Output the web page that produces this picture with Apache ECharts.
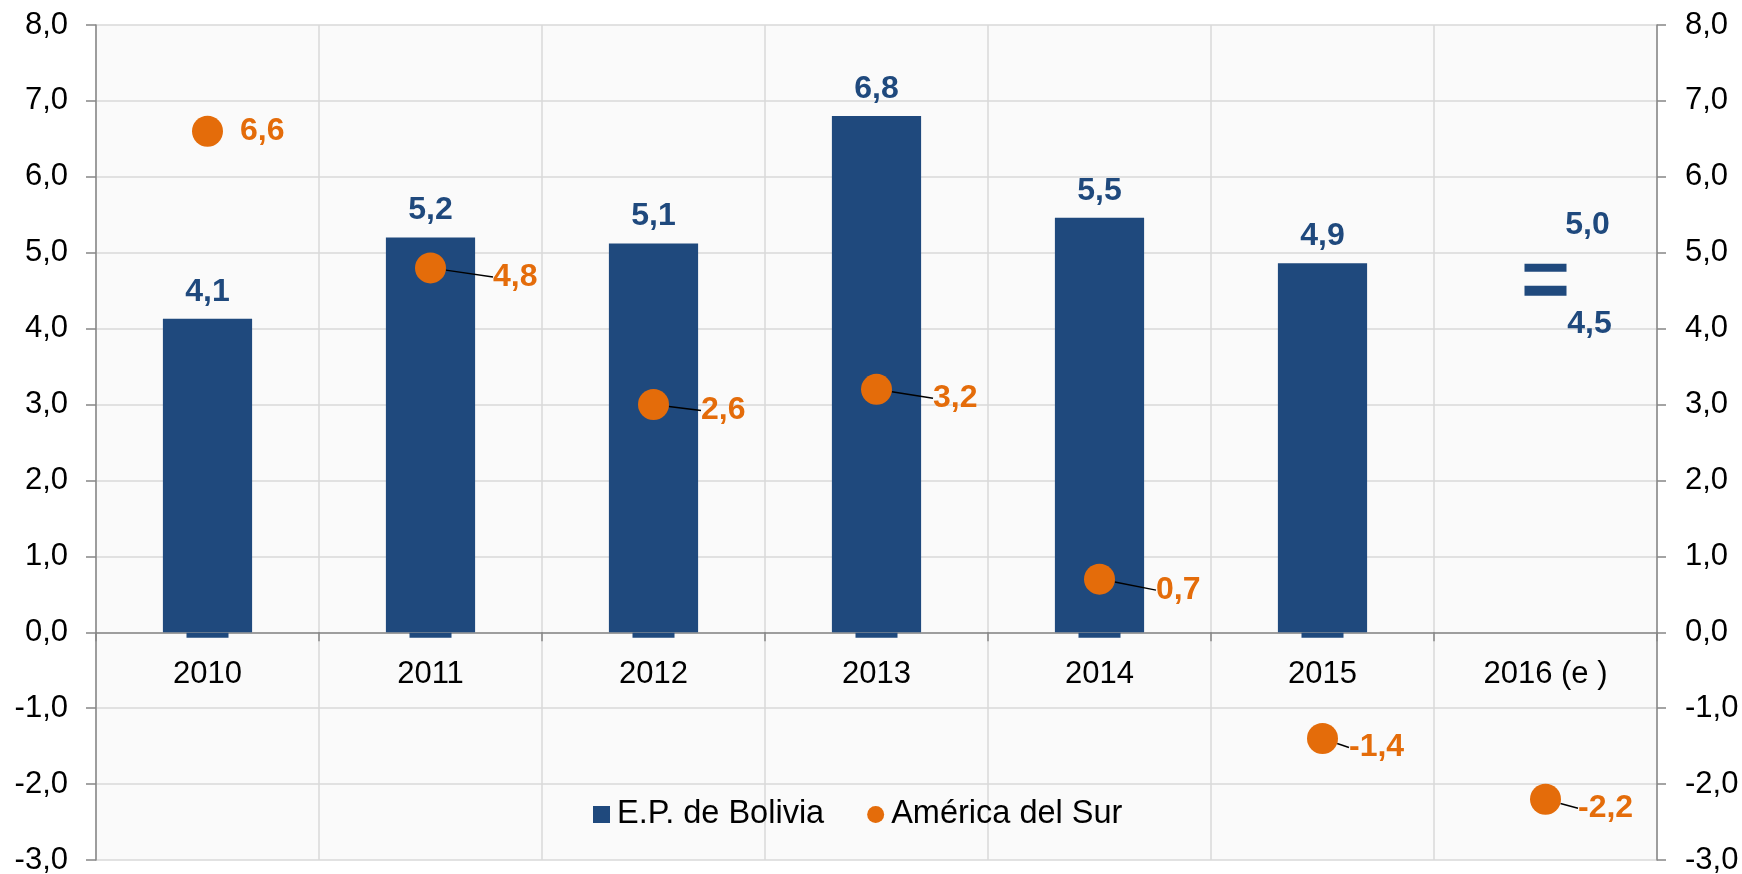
<!DOCTYPE html>
<html>
<head>
<meta charset="utf-8">
<script src="https://cdn.jsdelivr.net/npm/echarts@6/dist/echarts.min.js"></script>
<style>
  html, body { margin: 0; padding: 0; background: #fff; }
  #chart { width: 1742px; height: 874px; }
</style>
</head>
<body>
<div id="chart"></div>
<script>
// datos
var years = ['2010', '2011', '2012', '2013', '2014', '2015', '2016 (e )'];
var bolivia = [4.13, 5.2, 5.12, 6.8, 5.46, 4.86, null];
// posicion del punto tal como aparece (2012 esta dibujado sobre 3,0)
var americaSur = [6.6, 4.8, 3.0, 3.2, 0.7, -1.4, -2.2];
// texto de las etiquetas
var americaSurEtiq = ['6,6', '4,8', '2,6', '3,2', '0,7', '-1,4', '-2,2'];
var estimadoAlto = 5.0;
var estimadoBajo = 4.5;
var yMin = -3, yMax = 8, yPaso = 1;

var azul = '#1F497D';
var naranja = '#E46C0A';
var fuente = 'Liberation Sans, Arial, sans-serif';

var gridTop = 25, gridBottom = 14;
var altoGrid = 874 - gridTop - gridBottom;
// el eje de categorias va sobre el cero
var offsetEjeX = -(0 - yMin) * altoGrid / (yMax - yMin);

// desplazamiento de las etiquetas naranjas (dx, dy)
var despl = [[12, 0], [42, 9], [27, 6], [36, 9], [36, 11], [6, 9], [12, 9]];

function coma(v) {
  return v.toFixed(1).replace('.', ',');
}

var myecharts = echarts.init(document.getElementById('chart'));

var option = {
  animation: false,
  backgroundColor: '#ffffff',
  textStyle: { fontFamily: fuente },
  grid: {
    left: 96, right: 85, top: gridTop, bottom: gridBottom,
    outerBoundsMode: 'none',
    containLabel: false,
    show: true, backgroundColor: '#fafafa', borderWidth: 0
  },
  legend: {
    left: 588, top: 793,
    itemWidth: 17, itemHeight: 17, itemGap: 43,
    textStyle: { fontSize: 32.5, color: '#000', fontFamily: fuente, padding: [0, 0, 0, 2] },
    data: [
      { name: 'E.P. de Bolivia', icon: 'rect' },
      { name: 'América del Sur', icon: 'circle' }
    ]
  },
  xAxis: {
    type: 'category',
    data: years,
    offset: offsetEjeX,
    axisLine: { onZero: false, lineStyle: { color: '#868686', width: 1.5 } },
    axisTick: { show: true, length: 9, interval: 0, lineStyle: { color: '#868686', width: 1.5 } },
    axisLabel: { fontSize: 31, color: '#000', margin: 27, fontFamily: fuente },
    splitLine: { show: true, interval: 0, lineStyle: { color: '#d9d9d9', width: 1.5 } }
  },
  yAxis: [{
    type: 'value', min: yMin, max: yMax, interval: yPaso, position: 'left',
    axisLine: { show: true, lineStyle: { color: '#868686', width: 1.5 } },
    axisTick: { show: true, length: 10, lineStyle: { color: '#868686', width: 1.5 } },
    axisLabel: { fontSize: 31, color: '#000', margin: 28, fontFamily: fuente, formatter: coma },
    splitLine: { show: true, lineStyle: { color: '#d9d9d9', width: 1.5 } }
  }, {
    type: 'value', min: yMin, max: yMax, interval: yPaso, position: 'right',
    axisLine: { show: true, lineStyle: { color: '#868686', width: 1.5 } },
    axisTick: { show: true, length: 9, lineStyle: { color: '#868686', width: 1.5 } },
    axisLabel: { fontSize: 31, color: '#000', margin: 28, fontFamily: fuente, formatter: coma },
    splitLine: { show: false }
  }],
  series: [{
    name: 'E.P. de Bolivia',
    type: 'bar',
    data: bolivia,
    barWidth: '40%',
    itemStyle: { color: azul },
    label: {
      show: true, position: 'top', distance: 11,
      fontSize: 32, fontWeight: 'bold', color: azul, fontFamily: fuente,
      formatter: function (p) { return coma(p.value); }
    },
    z: 2
  }, {
    // pequeña marca bajo cada barra
    name: 'base',
    type: 'scatter',
    data: bolivia.map(function (v) { return v == null ? null : 0; }),
    symbol: 'rect',
    symbolSize: [42, 5],
    symbolOffset: [0, 3],
    itemStyle: { color: azul, opacity: 1 },
    silent: true,
    z: 1
  }, {
    name: 'América del Sur',
    type: 'scatter',
    data: americaSur.map(function (v, i) {
      return i === 0 ? { value: v, labelLine: { show: false } } : v;
    }),
    symbol: 'circle',
    symbolSize: 31,
    itemStyle: { color: naranja, opacity: 1 },
    label: {
      show: true, position: 'right', distance: 5,
      fontSize: 32, fontWeight: 'bold', color: naranja, fontFamily: fuente,
      formatter: function (p) { return americaSurEtiq[p.dataIndex]; }
    },
    labelLayout: function (p) {
      var d = despl[p.dataIndex];
      return { dx: d[0], dy: d[1] };
    },
    labelLine: { show: true, lineStyle: { color: '#000', width: 1.5 } },
    z: 5
  }, {
    name: 'estimado',
    type: 'scatter',
    symbol: 'rect',
    itemStyle: { color: azul, opacity: 1 },
    label: {
      show: true, fontSize: 32, fontWeight: 'bold', color: azul, fontFamily: fuente,
      formatter: function (p) { return coma(p.value[1]); }
    },
    data: [{
      value: [years[6], estimadoAlto],
      symbolSize: [42, 8],
      symbolOffset: [0, 15],
      label: { position: 'top', distance: 23, offset: [42, 0] }
    }, {
      value: [years[6], estimadoBajo],
      symbolSize: [42, 10],
      label: { position: 'bottom', distance: 12, offset: [44, 0] }
    }],
    z: 4
  }]
};

myecharts.setOption(option);
</script>
</body>
</html>
